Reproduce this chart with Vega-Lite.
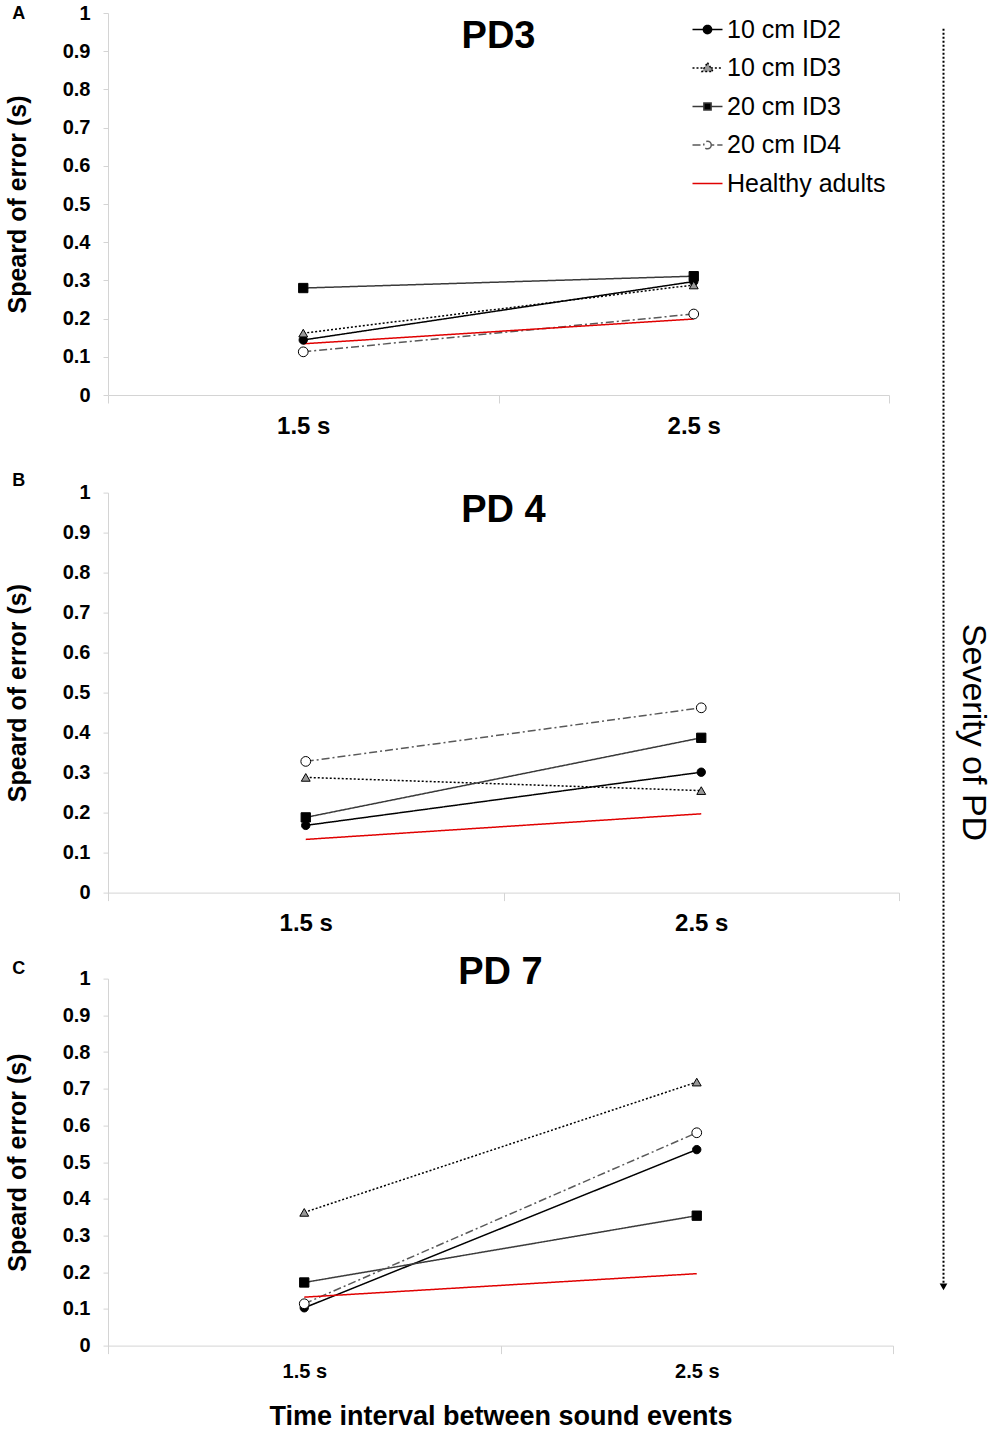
{
  "$schema": "https://vega.github.io/schema/vega-lite/v6.json",
  "background": "white",
  "padding": {"top": 3, "left": 5, "right": 0, "bottom": 0},
  "datasets": {
    "errors": [
      {"panel": "PD3", "interval": "1.5 s", "series": "10 cm ID2", "value": 0.144},
      {"panel": "PD3", "interval": "2.5 s", "series": "10 cm ID2", "value": 0.297},
      {"panel": "PD3", "interval": "1.5 s", "series": "10 cm ID3", "value": 0.162},
      {"panel": "PD3", "interval": "2.5 s", "series": "10 cm ID3", "value": 0.288},
      {"panel": "PD3", "interval": "1.5 s", "series": "20 cm ID3", "value": 0.28},
      {"panel": "PD3", "interval": "2.5 s", "series": "20 cm ID3", "value": 0.311},
      {"panel": "PD3", "interval": "1.5 s", "series": "20 cm ID4", "value": 0.113},
      {"panel": "PD3", "interval": "2.5 s", "series": "20 cm ID4", "value": 0.212},
      {"panel": "PD3", "interval": "1.5 s", "series": "Healthy adults", "value": 0.134},
      {"panel": "PD3", "interval": "2.5 s", "series": "Healthy adults", "value": 0.199},
      {"panel": "PD4", "interval": "1.5 s", "series": "10 cm ID2", "value": 0.168},
      {"panel": "PD4", "interval": "2.5 s", "series": "10 cm ID2", "value": 0.301},
      {"panel": "PD4", "interval": "1.5 s", "series": "10 cm ID3", "value": 0.288},
      {"panel": "PD4", "interval": "2.5 s", "series": "10 cm ID3", "value": 0.255},
      {"panel": "PD4", "interval": "1.5 s", "series": "20 cm ID3", "value": 0.188},
      {"panel": "PD4", "interval": "2.5 s", "series": "20 cm ID3", "value": 0.387},
      {"panel": "PD4", "interval": "1.5 s", "series": "20 cm ID4", "value": 0.328},
      {"panel": "PD4", "interval": "2.5 s", "series": "20 cm ID4", "value": 0.462},
      {"panel": "PD4", "interval": "1.5 s", "series": "Healthy adults", "value": 0.133},
      {"panel": "PD4", "interval": "2.5 s", "series": "Healthy adults", "value": 0.197},
      {"panel": "PD7", "interval": "1.5 s", "series": "10 cm ID2", "value": 0.103},
      {"panel": "PD7", "interval": "2.5 s", "series": "10 cm ID2", "value": 0.534},
      {"panel": "PD7", "interval": "1.5 s", "series": "10 cm ID3", "value": 0.363},
      {"panel": "PD7", "interval": "2.5 s", "series": "10 cm ID3", "value": 0.718},
      {"panel": "PD7", "interval": "1.5 s", "series": "20 cm ID3", "value": 0.172},
      {"panel": "PD7", "interval": "2.5 s", "series": "20 cm ID3", "value": 0.354},
      {"panel": "PD7", "interval": "1.5 s", "series": "20 cm ID4", "value": 0.114},
      {"panel": "PD7", "interval": "2.5 s", "series": "20 cm ID4", "value": 0.58},
      {"panel": "PD7", "interval": "1.5 s", "series": "Healthy adults", "value": 0.132},
      {"panel": "PD7", "interval": "2.5 s", "series": "Healthy adults", "value": 0.196}
    ]
  },
  "config": {
    "view": {"stroke": null},
    "font": "Liberation Sans",
    "axis": {
      "grid": false,
      "labelColor": "black",
      "titleColor": "black",
      "labelFont": "Liberation Sans",
      "titleFont": "Liberation Sans",
      "domainColor": "#d4d4d4",
      "tickColor": "#d4d4d4"
    },
    "axisY": {
      "labelFontSize": 20,
      "labelFontWeight": "bold",
      "tickSize": 5,
      "labelPadding": 13,
      "titleFontSize": 25,
      "titleFontWeight": "bold",
      "titlePadding": 32
    },
    "axisX": {
      "labelFontSize": 24,
      "labelFontWeight": "bold",
      "labelAngle": 0,
      "tickSize": 8,
      "tickBand": "extent",
      "labelPadding": 11
    },
    "title": {"color": "black", "font": "Liberation Sans", "fontWeight": "bold"}
  },
  "hconcat": [
    {
      "vconcat": [
        {
          "spacing": 33.6,
          "vconcat": [
            {
              "title": {"text": "A", "anchor": "start", "fontSize": 18, "offset": -19.5, "dx": 7},
              "vconcat": [
                {
                  "title": {"text": "PD3", "fontSize": 38, "offset": -52.5},
                  "width": 781,
                  "height": 382,
                  "data": {"name": "errors"},
                  "transform": [{"filter": "datum.panel === 'PD3'"}],
                  "encoding": {
                    "x": {"field": "interval", "type": "nominal", "bandPosition": 0.5,
                      "scale": {"type": "band", "domain": ["1.5 s", "2.5 s"], "paddingInner": 0, "paddingOuter": 0},
                      "axis": {"title": null}},
                    "y": {"field": "value", "type": "quantitative", "scale": {"domain": [0, 1]},
                      "axis": {"title": "Speard of error (s)", "values": [0, 0.1, 0.2, 0.3, 0.4, 0.5, 0.6, 0.7, 0.8, 0.9, 1], "format": "~g"}}
                  },
                  "layer": [
                    {
                      "mark": {"type": "line", "strokeWidth": 1.5},
                      "encoding": {
                        "stroke": {"field": "series", "type": "nominal",
                          "scale": {"domain": ["10 cm ID2", "10 cm ID3", "20 cm ID3", "20 cm ID4", "Healthy adults"], "range": ["black", "black", "#3a3a3a", "#595959", "#e00000"]},
                          "legend": {
                            "title": null, "orient": "none", "legendX": 587, "legendY": 4,
                            "symbolSize": 225, "symbolStrokeWidth": 1.5, "padding": 0,
                            "labelFontSize": 25, "labelFont": "Liberation Sans", "labelColor": "black",
                            "labelOffset": 7, "rowPadding": 12.5, "labelLimit": 300,
                            "encode": {"symbols": {"update": {
                              "shape": {"signal": "datum.value === '10 cm ID2' ? 'M-2,0H-0.5M0.5,0H2M0.55,0A0.55,0.55,0,1,1,-0.55,0A0.55,0.55,0,1,1,0.55,0Z' : datum.value === '10 cm ID3' ? 'M-2,0H-0.45M0.45,0H2M0,-0.72L0.72,0.45L-0.72,0.45Z' : datum.value === '20 cm ID3' ? 'M-2,0H-0.48M0.48,0H2M-0.48,-0.48H0.48V0.48H-0.48Z' : datum.value === '20 cm ID4' ? 'M-2,0H-0.9M-0.5,0H-0.5M0.5,0H0.9M1.3,0H2M0.5,0A0.5,0.5,0,1,1,-0.5,0A0.5,0.5,0,1,1,0.5,0Z' : 'M-2,0H2'"},
                              "fill": {"signal": "datum.value === '10 cm ID2' || datum.value === '20 cm ID3' ? 'black' : datum.value === '10 cm ID3' ? '#999999' : datum.value === '20 cm ID4' ? 'white' : 'transparent'"},
                              "stroke": {"signal": "datum.value === '10 cm ID3' ? '#777777' : datum.value === 'Healthy adults' ? '#e00000' : 'black'"},
                              "strokeDash": {"signal": "datum.value === '10 cm ID3' ? [2, 2] : [1, 0]"}
                            }}}
                          }},
                        "strokeDash": {"field": "series", "type": "nominal",
                          "scale": {"domain": ["10 cm ID2", "10 cm ID3", "20 cm ID3", "20 cm ID4", "Healthy adults"], "range": [[1, 0], [2, 2], [1, 0], [8, 3, 2, 3], [1, 0]]},
                          "legend": {"title": null}}
                      }
                    },
                    {
                      "transform": [{"filter": "datum.series !== 'Healthy adults'"}],
                      "mark": {"type": "point", "filled": true, "stroke": "black", "strokeWidth": 1, "opacity": 1},
                      "encoding": {
                        "shape": {"field": "series", "type": "nominal", "legend": null,
                          "scale": {"domain": ["10 cm ID2", "10 cm ID3", "20 cm ID3", "20 cm ID4"], "range": ["circle", "triangle-up", "square", "circle"]}},
                        "fill": {"field": "series", "type": "nominal", "legend": null,
                          "scale": {"domain": ["10 cm ID2", "10 cm ID3", "20 cm ID3", "20 cm ID4"], "range": ["black", "#999999", "black", "white"]}},
                        "size": {"field": "series", "type": "nominal", "legend": null,
                          "scale": {"domain": ["10 cm ID2", "10 cm ID3", "20 cm ID3", "20 cm ID4"], "range": [70, 95, 65, 100]}}
                      }
                    }
                  ]
                }
              ]
            },
            {
              "title": {"text": "B", "anchor": "start", "fontSize": 18, "offset": -7.5, "dx": 7},
              "vconcat": [
                {
                  "title": {"text": "PD 4", "fontSize": 38, "offset": -47.5},
                  "width": 791,
                  "height": 400,
                  "data": {"name": "errors"},
                  "transform": [{"filter": "datum.panel === 'PD4'"}],
                  "encoding": {
                    "x": {"field": "interval", "type": "nominal", "bandPosition": 0.5,
                      "scale": {"type": "band", "domain": ["1.5 s", "2.5 s"], "paddingInner": 0, "paddingOuter": 0},
                      "axis": {"title": null}},
                    "y": {"field": "value", "type": "quantitative", "scale": {"domain": [0, 1]},
                      "axis": {"title": "Speard of error (s)", "values": [0, 0.1, 0.2, 0.3, 0.4, 0.5, 0.6, 0.7, 0.8, 0.9, 1], "format": "~g"}}
                  },
                  "layer": [
                    {
                      "mark": {"type": "line", "strokeWidth": 1.5},
                      "encoding": {
                        "stroke": {"field": "series", "type": "nominal", "legend": null,
                          "scale": {"domain": ["10 cm ID2", "10 cm ID3", "20 cm ID3", "20 cm ID4", "Healthy adults"], "range": ["black", "black", "#3a3a3a", "#595959", "#e00000"]}},
                        "strokeDash": {"field": "series", "type": "nominal", "legend": null,
                          "scale": {"domain": ["10 cm ID2", "10 cm ID3", "20 cm ID3", "20 cm ID4", "Healthy adults"], "range": [[1, 0], [2, 2], [1, 0], [8, 3, 2, 3], [1, 0]]}}
                      }
                    },
                    {
                      "transform": [{"filter": "datum.series !== 'Healthy adults'"}],
                      "mark": {"type": "point", "filled": true, "stroke": "black", "strokeWidth": 1, "opacity": 1},
                      "encoding": {
                        "shape": {"field": "series", "type": "nominal", "legend": null,
                          "scale": {"domain": ["10 cm ID2", "10 cm ID3", "20 cm ID3", "20 cm ID4"], "range": ["circle", "triangle-up", "square", "circle"]}},
                        "fill": {"field": "series", "type": "nominal", "legend": null,
                          "scale": {"domain": ["10 cm ID2", "10 cm ID3", "20 cm ID3", "20 cm ID4"], "range": ["black", "#999999", "black", "white"]}},
                        "size": {"field": "series", "type": "nominal", "legend": null,
                          "scale": {"domain": ["10 cm ID2", "10 cm ID3", "20 cm ID3", "20 cm ID4"], "range": [70, 95, 65, 100]}}
                      }
                    }
                  ]
                }
              ]
            }
          ]
        },
        {
          "title": {"text": "C", "anchor": "start", "fontSize": 18, "offset": -23.5, "dx": 7},
          "vconcat": [
            {
              "title": {"text": "PD 7", "fontSize": 38, "offset": -23.5},
              "width": 785,
              "height": 367,
              "data": {"name": "errors"},
              "transform": [{"filter": "datum.panel === 'PD7'"}],
              "encoding": {
                "x": {"field": "interval", "type": "nominal", "bandPosition": 0.5,
                  "scale": {"type": "band", "domain": ["1.5 s", "2.5 s"], "paddingInner": 0, "paddingOuter": 0},
                  "axis": {"title": "Time interval between sound events", "labelFontSize": 20, "labelPadding": 8,
                    "titleFontSize": 27, "titleFontWeight": "bold", "titlePadding": 22}},
                "y": {"field": "value", "type": "quantitative", "scale": {"domain": [0, 1]},
                  "axis": {"title": "Speard of error (s)", "values": [0, 0.1, 0.2, 0.3, 0.4, 0.5, 0.6, 0.7, 0.8, 0.9, 1], "format": "~g"}}
              },
              "layer": [
                {
                  "mark": {"type": "line", "strokeWidth": 1.5},
                  "encoding": {
                    "stroke": {"field": "series", "type": "nominal", "legend": null,
                      "scale": {"domain": ["10 cm ID2", "10 cm ID3", "20 cm ID3", "20 cm ID4", "Healthy adults"], "range": ["black", "black", "#3a3a3a", "#595959", "#e00000"]}},
                    "strokeDash": {"field": "series", "type": "nominal", "legend": null,
                      "scale": {"domain": ["10 cm ID2", "10 cm ID3", "20 cm ID3", "20 cm ID4", "Healthy adults"], "range": [[1, 0], [2, 2], [1, 0], [8, 3, 2, 3], [1, 0]]}}
                  }
                },
                {
                  "transform": [{"filter": "datum.series !== 'Healthy adults'"}],
                  "mark": {"type": "point", "filled": true, "stroke": "black", "strokeWidth": 1, "opacity": 1},
                  "encoding": {
                    "shape": {"field": "series", "type": "nominal", "legend": null,
                      "scale": {"domain": ["10 cm ID2", "10 cm ID3", "20 cm ID3", "20 cm ID4"], "range": ["circle", "triangle-up", "square", "circle"]}},
                    "fill": {"field": "series", "type": "nominal", "legend": null,
                      "scale": {"domain": ["10 cm ID2", "10 cm ID3", "20 cm ID3", "20 cm ID4"], "range": ["black", "#999999", "black", "white"]}},
                    "size": {"field": "series", "type": "nominal", "legend": null,
                      "scale": {"domain": ["10 cm ID2", "10 cm ID3", "20 cm ID3", "20 cm ID4"], "range": [70, 95, 65, 100]}}
                  }
                }
              ]
            }
          ]
        }
      ],
      "spacing": 17.6
    },
    {
      "width": 20,
      "height": 1425,
      "data": {"values": [{}]},
      "encoding": {
        "x": {"datum": 0, "type": "quantitative", "scale": {"domain": [-1, 1]}, "axis": null}
      },
      "layer": [
        {
          "mark": {"type": "rule", "strokeDash": [2, 2], "strokeWidth": 2, "color": "black"},
          "encoding": {
            "y": {"datum": 0.011, "type": "quantitative", "scale": {"domain": [0, 1], "reverse": true},
              "axis": {"orient": "right", "labels": false, "ticks": false, "domain": false,
                "title": "Severity of PD", "titleFontSize": 34, "titleFontWeight": "normal",
                "titlePadding": 2, "titleY": 719, "titleColor": "black"}},
            "y2": {"datum": 0.894}
          }
        },
        {
          "mark": {"type": "point", "shape": "triangle-down", "filled": true, "color": "black", "size": 60, "opacity": 1},
          "encoding": {
            "y": {"datum": 0.894, "type": "quantitative"}
          }
        }
      ]
    }
  ],
  "spacing": 33.5
}
